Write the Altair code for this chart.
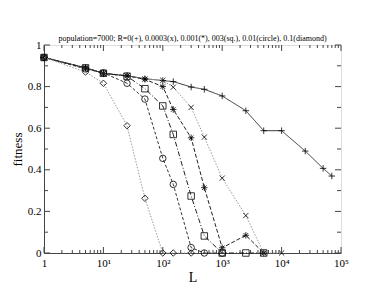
import altair as alt
import pandas as pd

# ---- data ----
L_plus = [1, 5, 10, 25, 50, 100, 150, 300, 500, 1000, 2500, 5000, 10000, 25000, 50000, 70000]
F_plus = [0.94, 0.89, 0.864, 0.852, 0.838, 0.829, 0.824, 0.798, 0.787, 0.755, 0.684, 0.588, 0.588, 0.49, 0.407, 0.37]

L_x = [1, 5, 10, 25, 50, 100, 150, 300, 500, 1000, 2500, 5000, 10000]
F_x = [0.94, 0.89, 0.864, 0.852, 0.837, 0.83, 0.797, 0.70, 0.557, 0.36, 0.18, 0.0, 0.0]

L_star = [1, 5, 10, 25, 50, 100, 150, 300, 500, 1000, 2500, 5000]
F_star = [0.94, 0.89, 0.864, 0.852, 0.835, 0.80, 0.69, 0.554, 0.314, 0.025, 0.085, 0.0]

L_sq = [1, 5, 10, 25, 50, 100, 150, 300, 500, 1000, 2500, 5000]
F_sq = [0.94, 0.89, 0.864, 0.85, 0.79, 0.707, 0.57, 0.274, 0.082, 0.0, 0.0, 0.0]

L_circ = [1, 5, 10, 25, 50, 100, 150, 300, 500, 1000]
F_circ = [0.94, 0.885, 0.866, 0.816, 0.74, 0.455, 0.33, 0.026, 0.0, 0.0]

L_dia = [1, 5, 10, 25, 50, 100, 150, 300]
F_dia = [0.94, 0.87, 0.816, 0.612, 0.263, 0.0, 0.0, 0.0]

x_major = [1, 10, 100, 1000, 10000, 100000]
x_minor = [m * d for d in [1, 10, 100, 1000, 10000] for m in range(2, 10)]
y_major = [0, 0.2, 0.4, 0.6, 0.8, 1.0]
y_minor = [0.1, 0.3, 0.5, 0.7, 0.9]

TITLE = "population=7000; R=0(+), 0.0003(x), 0.001(*), 003(sq.), 0.01(circle), 0.1(diamond)"

W, H = 297, 208
FONT = "Liberation Serif"

PLUS = "M-1,0H1M0,-1V1"
XSHAPE = "M-0.8,-0.8L0.8,0.8M-0.8,0.8L0.8,-0.8"
STAR = "M-1,0H1M0,-1V1M-0.7,-0.7L0.7,0.7M-0.7,0.7L0.7,-0.7"

xscale = alt.Scale(type="log", domain=[1, 100000])
yscale = alt.Scale(domain=[0, 1])

label_expr = ("datum.value == 1 ? '1' : datum.value == 10 ? '10\u00b9' : datum.value == 100 ? '10\u00b2' : "
              "datum.value == 1000 ? '10\u00b3' : datum.value == 10000 ? '10\u2074' : '10\u2075'")

xaxis = alt.Axis(values=x_major, labelExpr=label_expr, ticks=False, grid=False, title="L",
                 labelFont=FONT, labelFontSize=11, labelColor="black", labelPadding=4,
                 titleFont=FONT, titleFontSize=14, titleFontWeight="normal", titleColor="black",
                 titlePadding=2, domainColor="#444444", labelFlush=False)
yaxis = alt.Axis(values=y_major, ticks=False, grid=False, title="fitness",
                 labelFont=FONT, labelFontSize=11, labelColor="black", labelPadding=3,
                 titleFont=FONT, titleFontSize=13, titleFontWeight="normal", titleColor="black",
                 titlePadding=3, domainColor="#444444", labelFlush=False,
                 labelExpr="datum.value == 0 ? '0' : datum.value == 1 ? '1' : format(datum.value, '.1f')")

series = [
    (L_plus, F_plus, PLUS, "#333333", [1, 0], 1.0),
    (L_x, F_x, XSHAPE, "#9a9a9a", [1.5, 1.5], 1.0),
    (L_star, F_star, STAR, "#222222", [4, 2], 1.0),
    (L_sq, F_sq, "square", "#222222", [5, 2, 1, 2], 1.0),
    (L_circ, F_circ, "circle", "#333333", [3, 2], 1.0),
    (L_dia, F_dia, "diamond", "#9a9a9a", [1.5, 1.5], 1.0),
]

def X(field):
    return alt.X(field, scale=xscale, axis=xaxis)

def Y(field):
    return alt.Y(field, scale=yscale, axis=yaxis)

layers = []
for Ls, Fs, shape, col, dash, sw in series:
    df = pd.DataFrame({"L": Ls, "F": Fs})
    line = alt.Chart(df).mark_line(color=col, strokeDash=dash, strokeWidth=sw).encode(
        x=X("L:Q"), y=Y("F:Q"))
    pts = alt.Chart(df).mark_point(shape=shape, filled=False, color="black", size=42,
                                   strokeWidth=0.8, opacity=1).encode(x=X("L:Q"), y=Y("F:Q"))
    layers += [line, pts]

tick_color = "#444444"
xmaj = pd.DataFrame({"L": x_major})
xmin = pd.DataFrame({"L": x_minor})
ymaj = pd.DataFrame({"F": y_major})
ymin = pd.DataFrame({"F": y_minor})

def xticks(df, ln):
    bot = alt.Chart(df).mark_rule(color=tick_color, strokeWidth=1).encode(
        x=X("L:Q"), y=alt.value(H - ln), y2=alt.value(H))
    top = alt.Chart(df).mark_rule(color=tick_color, strokeWidth=1).encode(
        x=X("L:Q"), y=alt.value(0), y2=alt.value(ln))
    return [bot, top]

def yticks(df, ln):
    left = alt.Chart(df).mark_rule(color=tick_color, strokeWidth=1).encode(
        y=Y("F:Q"), x=alt.value(0), x2=alt.value(ln))
    right = alt.Chart(df).mark_rule(color=tick_color, strokeWidth=1).encode(
        y=Y("F:Q"), x=alt.value(W - ln), x2=alt.value(W))
    return [left, right]

tick_layers = xticks(xmaj, 6) + xticks(xmin, 3) + yticks(ymaj, 6) + yticks(ymin, 4)

chart = alt.layer(*(layers + tick_layers)).properties(
    width=W, height=H,
    title=alt.TitleParams(TITLE, font=FONT, fontSize=8, fontWeight="normal", color="black",
                          offset=-4, anchor="middle"),
    autosize=alt.AutoSizeParams(type="none"),
    padding={"left": 36, "top": 37, "right": 30, "bottom": 30},
).configure_view(stroke="#444444", strokeWidth=1).configure(background="white")

chart.save("out.html", embed_options={"renderer": "svg", "actions": False})
